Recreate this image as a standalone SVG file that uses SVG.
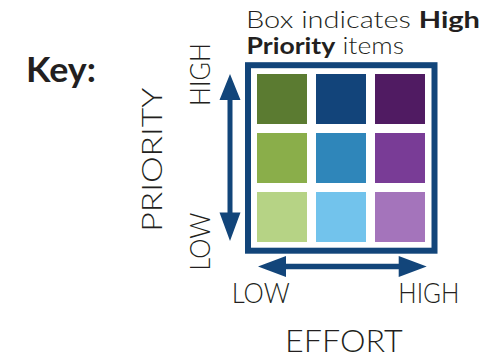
<svg xmlns="http://www.w3.org/2000/svg" width="499" height="356" viewBox="0 0 499 356">
<style>
text{font-family:Lato,"DejaVu Sans","Liberation Sans",sans-serif;fill:#231f20}
.lt{font-weight:300}
.b{font-weight:700}
.arrow{fill:#12457a}
</style>
<rect width="499" height="356" fill="#fff"/>
<g id="key-label"><text class="b" x="26" y="81.5" font-size="34" textLength="70" lengthAdjust="spacingAndGlyphs">Key:</text></g>
<g id="legend-caption">
<text x="246" y="27.7" font-size="23" textLength="234" lengthAdjust="spacingAndGlyphs"><tspan class="lt">Box indicates </tspan><tspan class="b">High</tspan></text>
<text x="246.5" y="54" font-size="23" textLength="157.5" lengthAdjust="spacingAndGlyphs"><tspan class="b">Priority</tspan><tspan class="lt"> items</tspan></text>
</g>
<g id="priority-axis-labels">
<text class="lt" transform="translate(161.7,231.7) rotate(-90)" font-size="28" textLength="144" lengthAdjust="spacingAndGlyphs">PRIORITY</text>
<text class="lt" transform="translate(209.5,106) rotate(-90)" font-size="26.5" textLength="63" lengthAdjust="spacingAndGlyphs">HIGH</text>
<text class="lt" transform="translate(210,270.7) rotate(-90)" font-size="26.5" textLength="58" lengthAdjust="spacingAndGlyphs">LOW</text>
</g>
<g id="effort-axis-labels">
<text class="lt" x="231.7" y="303.3" font-size="26.5" textLength="58" lengthAdjust="spacingAndGlyphs">LOW</text>
<text class="lt" x="398.3" y="303.3" font-size="26.5" textLength="61" lengthAdjust="spacingAndGlyphs">HIGH</text>
<text class="lt" x="285" y="351.7" font-size="32" textLength="117.7" lengthAdjust="spacingAndGlyphs">EFFORT</text>
</g>
<g id="connectors">
<path class="arrow" d="M230,74 L240.5,100 L232.5,100 L232.5,212.5 L240.5,212.5 L230,241 L219.5,212.5 L227.5,212.5 L227.5,100 L219.5,100 Z"/>
<path class="arrow" d="M258,266.5 L286,256 L286,263.8 L398.7,263.8 L398.7,256 L426.7,266.5 L398.7,277 L398.7,269.2 L286,269.2 L286,277 Z"/>
</g>
<g id="high-priority-box"><rect x="248" y="65.2" width="186.5" height="185.5" fill="none" stroke="#12457a" stroke-width="6"/></g>
<g id="cells">
<g id="cell-r1c1"><rect x="257" y="74" width="50" height="50" fill="#5b7b31"/></g>
<g id="cell-r1c2"><rect x="316" y="74" width="50" height="50" fill="#12447a"/></g>
<g id="cell-r1c3"><rect x="375" y="74" width="50" height="50" fill="#501b62"/></g>
<g id="cell-r2c1"><rect x="257" y="133" width="50" height="50" fill="#8aae4a"/></g>
<g id="cell-r2c2"><rect x="316" y="133" width="50" height="50" fill="#2f86ba"/></g>
<g id="cell-r2c3"><rect x="375" y="133" width="50" height="50" fill="#793c96"/></g>
<g id="cell-r3c1"><rect x="257" y="192" width="50" height="50" fill="#b6d385"/></g>
<g id="cell-r3c2"><rect x="316" y="192" width="50" height="50" fill="#72c3ec"/></g>
<g id="cell-r3c3"><rect x="375" y="192" width="50" height="50" fill="#a474bb"/></g>
</g>
</svg>
